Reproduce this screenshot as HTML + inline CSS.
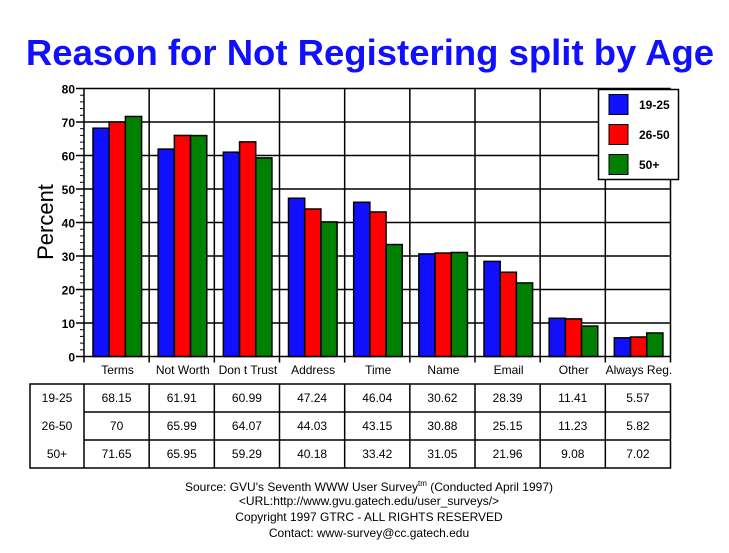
<!DOCTYPE html>
<html><head><meta charset="utf-8"><style>
html,body{margin:0;padding:0;background:#fff;}
svg{display:block;}
text{font-family:"Liberation Sans",Arial,sans-serif;}
</style></head><body>
<svg id="s" width="729" height="553" xmlns="http://www.w3.org/2000/svg">
<text x="370" y="65" text-anchor="middle" font-size="36.5" font-weight="bold" fill="#1010ff">Reason for Not Registering split by Age</text>
<text transform="translate(53,222) rotate(-90)" text-anchor="middle" font-size="22" fill="#000">Percent</text>
<g id="g"></g>
<rect x="598.5" y="89.5" width="80" height="90" fill="#fff" stroke="#000" stroke-width="1.5"/>
<rect x="609" y="94.5" width="19" height="20" fill="#1010ff" stroke="#000"/>
<rect x="609" y="124.5" width="19" height="20" fill="#ff0000" stroke="#000"/>
<rect x="609" y="154.5" width="19" height="20" fill="#008000" stroke="#000"/>
<text x="639" y="109" font-size="12" font-weight="bold">19-25</text>
<text x="639" y="139" font-size="12" font-weight="bold">26-50</text>
<text x="639" y="169" font-size="12" font-weight="bold">50+</text>
<g font-size="12" text-anchor="middle" fill="#000">
<text x="369" y="491">Source: GVU's Seventh WWW User Survey<tspan font-size="8" dy="-5">tm</tspan><tspan dy="5"> (Conducted April 1997)</tspan></text>
<text x="369" y="505">&lt;URL:http://www.gvu.gatech.edu/user_surveys/&gt;</text>
<text x="369" y="521">Copyright 1997 GTRC - ALL RIGHTS RESERVED</text>
<text x="369" y="537">Contact: www-survey@cc.gatech.edu</text>
</g>
</svg>
<script>
var cats=["Terms","Not Worth","Don t Trust","Address","Time","Name","Email","Other","Always Reg."];
var d=[[68.15,61.91,60.99,47.24,46.04,30.62,28.39,11.41,5.57],[70,65.99,64.07,44.03,43.15,30.88,25.15,11.23,5.82],[71.65,65.95,59.29,40.18,33.42,31.05,21.96,9.08,7.02]];
var lab=["19-25","26-50","50+"],col=["#1010ff","#ff0000","#008000"];
var L=84,R=670.5,B=356.5,S=3.35,W=(R-L)/9,h="";
function y(v){return B-v*S;}
for(var v=0;v<=80;v+=10){h+='<line x1="'+(L-8)+'" x2="'+R+'" y1="'+y(v)+'" y2="'+y(v)+'" stroke="#000" stroke-width="1.5"/>';
h+='<text x="'+(L-9)+'" y="'+(y(v)+5)+'" text-anchor="end" font-size="12" font-weight="bold">'+v+'</text>';}
for(var v=0;v<80;v+=2){if(v%10)h+='<line x1="'+(L-4)+'" x2="'+L+'" y1="'+y(v)+'" y2="'+y(v)+'" stroke="#000"/>';}
for(var i=0;i<=9;i++){var x=L+W*i;h+='<line x1="'+x+'" x2="'+x+'" y1="'+y(80)+'" y2="'+(B+6)+'" stroke="#000" stroke-width="1.5"/>';}
for(var i=0;i<9;i++){var gx=L+W*i;
 for(var k=0;k<3;k++){var bx=gx+9+k*16.2;h+='<rect x="'+bx+'" y="'+y(d[k][i])+'" width="16.2" height="'+(d[k][i]*S)+'" fill="'+col[k]+'" stroke="#000" stroke-width="1.5"/>';}
 h+='<text x="'+(gx+W/2+1)+'" y="374" text-anchor="middle" font-size="12">'+cats[i]+'</text>';}
var T=[384,412,440,468],TL=30;
h+='<rect x="'+TL+'" y="384" width="'+(R-TL)+'" height="84" fill="none" stroke="#000" stroke-width="1.5"/>';
for(var r=1;r<3;r++)h+='<line x1="'+L+'" x2="'+R+'" y1="'+T[r]+'" y2="'+T[r]+'" stroke="#000" stroke-width="1.5"/>';
for(var i=0;i<9;i++){var x=L+W*i;h+='<line x1="'+x+'" x2="'+x+'" y1="384" y2="468" stroke="#000" stroke-width="1.5"/>';}
for(var r=0;r<3;r++){var ty=T[r]+18;h+='<text x="57" y="'+ty+'" text-anchor="middle" font-size="12">'+lab[r]+'</text>';
 for(var i=0;i<9;i++)h+='<text x="'+(L+W*i+W/2)+'" y="'+ty+'" text-anchor="middle" font-size="12">'+d[r][i]+'</text>';}
document.getElementById("g").innerHTML=h;
</script>
</body></html>
